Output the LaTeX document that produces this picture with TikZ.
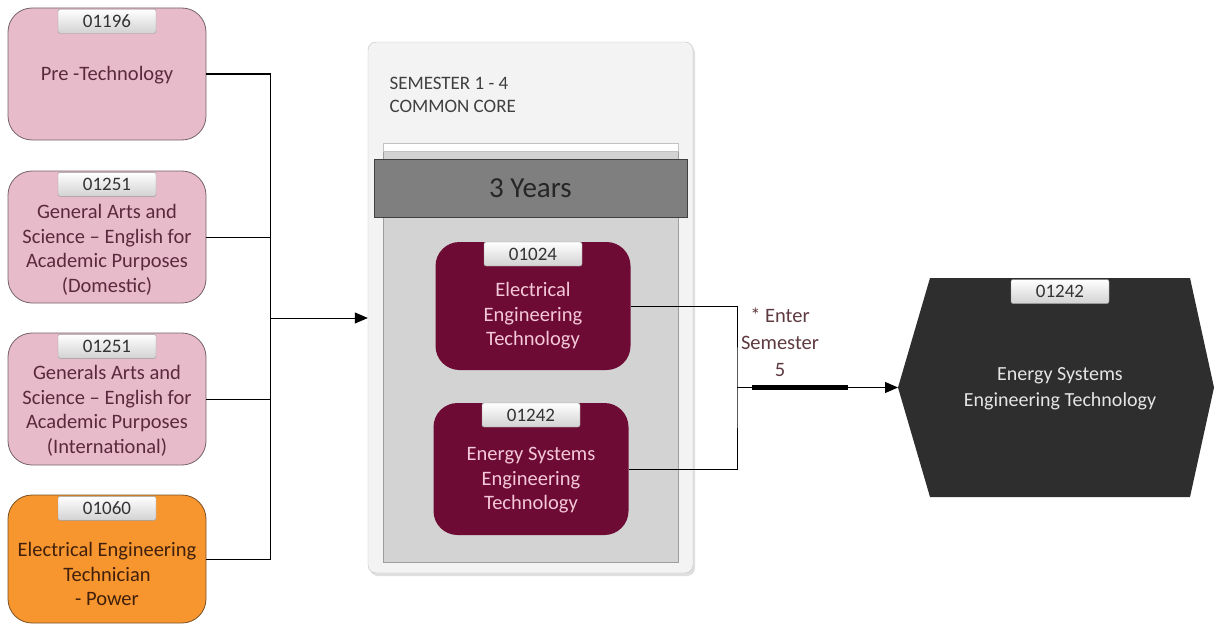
\documentclass[tikz,border=0pt]{standalone}
\usepackage{fontspec}
\setmainfont{Carlito}
\usepackage{tikz}
\usetikzlibrary{positioning,arrows.meta,shadows}
\usepackage{xcolor}
\definecolor{pinkfill}{HTML}{E8BBCB}
\definecolor{pinkline}{HTML}{74626A}
\definecolor{pinktext}{HTML}{5A2A3C}
\definecolor{orangefill}{HTML}{F7962F}
\definecolor{orangeline}{HTML}{7A5124}
\definecolor{orangetext}{HTML}{40200C}
\definecolor{maroonfill}{HTML}{6E0B34}
\definecolor{maroontext}{HTML}{F4C8D8}
\definecolor{tabgray}{HTML}{D2D2D2}
\definecolor{tabline}{HTML}{9A9A9A}
\definecolor{corefill}{HTML}{F3F3F3}
\definecolor{coreline}{HTML}{C2C2C2}
\definecolor{panelfill}{HTML}{D3D3D3}
\definecolor{panelline}{HTML}{9E9E9E}
\definecolor{barfill}{HTML}{7F7F7F}
\definecolor{hexfill}{HTML}{2E2E2E}
\definecolor{enterlabel}{HTML}{5E3A40}
\tikzstyle{progbox} = [draw=pinkline, fill=pinkfill, line width=0.8pt,
    rectangle, rounded corners=24pt, minimum width=198pt, minimum height=132pt]
\tikzstyle{progtext} = [align=center, text=pinktext, font=\fontsize{20.5}{24.5}\selectfont]
\tikzstyle{techbox} = [fill=maroonfill, rectangle, rounded corners=24pt,
    minimum width=195pt]
\tikzstyle{techtext} = [align=center, text=maroontext, font=\fontsize{20.5}{24.5}\selectfont]
\tikzstyle{codetab} = [draw=tabline, top color=white, bottom color=tabgray,
    rounded corners=2pt, minimum width=98pt, minimum height=24pt, inner sep=0pt,
    text=black!80, font=\fontsize{19}{20}\selectfont]
\tikzstyle{link} = [draw=black, line width=1pt]

\begin{document}
\begin{tikzpicture}[x=1pt, y=-1pt]
\useasboundingbox (0,0) rectangle (1215,626);
\node [progbox] (p1) at (107,74) {};
\node [codetab, below=1.5pt] (t1) at (p1.north) {01196};
\node [progtext] (p1t) at (107,75) {Pre -Technology};
\node [progbox] (p2) at (107,237) {};
\node [codetab, below=1.5pt] (t2) at (p2.north) {01251};
\node [progtext] (p2t) at (107,250) {General Arts and\\Science -- English for\\Academic Purposes\\(Domestic)};
\node [progbox] (p3) at (107,399) {};
\node [codetab, below=1.5pt] (t3) at (p3.north) {01251};
\node [progtext] (p3t) at (107,411) {Generals Arts and\\Science -- English for\\Academic Purposes\\(International)};
\node [progbox, fill=orangefill, draw=orangeline, minimum height=128pt] (p4) at (107,559) {};
\node [codetab, below=1.5pt] (t4) at (p4.north) {01060};
\node [progtext, text=orangetext] (p4t) at (107,574) {Electrical Engineering\\Technician\\ - Power};

\node [draw=coreline, fill=corefill, rounded corners=8pt, minimum width=325pt,
    minimum height=531pt, drop shadow={opacity=0.25, shadow xshift=2pt, shadow yshift=-3pt}] (core) at (530.5,307.5) {};
\node [anchor=west, align=left, text=black!75, font=\fontsize{19}{23}\selectfont] (sem) at (386,94.5) {SEMESTER 1 - 4\\COMMON CORE};
\node [draw=panelline, fill=panelfill, minimum width=295pt, minimum height=412pt] (panel) at (530.5,356) {};
\node [draw=coreline, fill=white, minimum width=295pt, minimum height=8pt, inner sep=0pt] (strip) at (530.5,147) {};
\node [draw=black!75, fill=barfill, minimum width=313pt, minimum height=58pt,
    text=black!85, font=\fontsize{29}{30}\selectfont] (years) at (530.5,188) {3 Years};

\node [techbox, minimum height=128pt] (m1) at (533,306) {};
\node [codetab, below=0pt] (t5) at (m1.north) {01024};
\node [techtext] (m1t) at (533,316) {Electrical\\Engineering\\Technology};
\node [techbox, minimum height=132pt] (m2) at (531,469) {};
\node [codetab, below=0pt] (t6) at (m2.north) {01242};
\node [techtext] (m2t) at (531,480.5) {Energy Systems\\Engineering\\Technology};

\coordinate (hextip) at (898,387.5);
\fill [hexfill] (930,278) -- (1190,278) -- (1214,387.5) -- (1190,497) -- (930,497) -- (hextip) -- cycle;
\node [codetab] (t7) at (1060,291.5) {01242};
\node [align=center, text=black!10, font=\fontsize{20}{26}\selectfont] (hext) at (1060,389) {Energy Systems\\Engineering Technology};

\coordinate (join) at (270,318);
\draw [link] (p1.east) -| (join);
\draw [link] (p2.east) -| (join);
\draw [link] (p3.east) -| (join);
\draw [link] (p4.east) -| (join);
\draw [link, -{Triangle[length=13pt,width=11pt]}] (join) -- (join -| core.west);

\coordinate (split) at (737,387.5);
\draw [link] (m1.east) -| (split) |- (m2.east);
\draw [link, -{Triangle[length=13pt,width=11pt]}] (split) -- (hextip);
\draw [line width=4.5pt] ([xshift=15pt]split) -- ([xshift=111pt]split);
\node [align=center, text=enterlabel, font=\fontsize{20.5}{27}\selectfont] (enter) at (780,342) {* Enter\\Semester\\5};
\end{tikzpicture}
\end{document}
